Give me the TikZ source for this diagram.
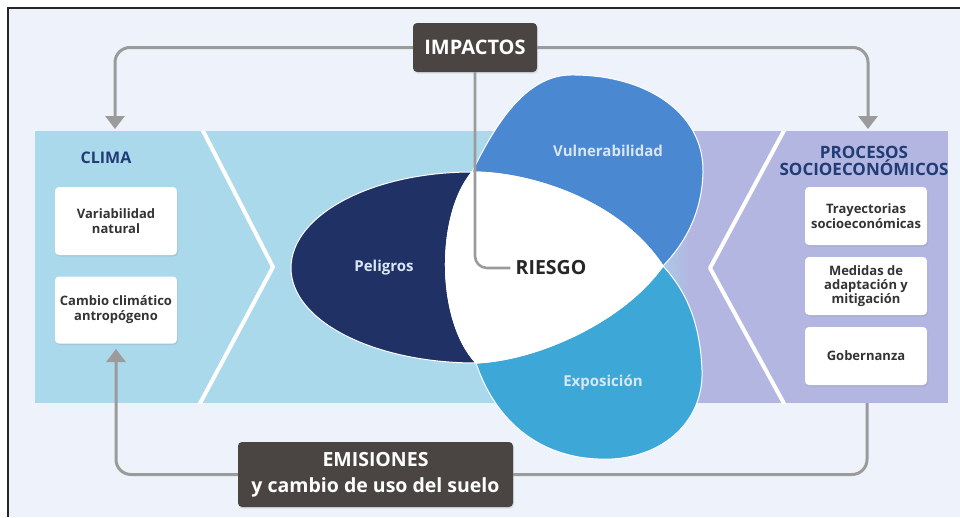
\documentclass[tikz,border=0pt]{standalone}
\usepackage{fontspec}
\setmainfont{Open Sans}
\usetikzlibrary{arrows.meta,calc,shadows}
\definecolor{bgc}{HTML}{EEF2FA}
\definecolor{bandblue}{HTML}{AAD9EB}
\definecolor{bandlav}{HTML}{B2B6E0}
\definecolor{navytext}{HTML}{213C75}
\definecolor{peligc}{HTML}{203265}
\definecolor{vulnc}{HTML}{4B88D2}
\definecolor{expoc}{HTML}{3DA8D8}
\definecolor{petaltext}{HTML}{D8E6F6}
\definecolor{darkbox}{HTML}{4A4543}
\definecolor{arrowgrey}{HTML}{9B9B9B}
\definecolor{boxtext}{HTML}{333333}
\begin{document}
\begin{tikzpicture}[x=1pt,y=-1pt,
  wbox/.style={fill=white, rounded corners=4pt, minimum width=122pt, align=center,
    font=\bfseries\fontsize{13}{15}\selectfont, text=boxtext, inner sep=0pt,
    drop shadow={opacity=0.18, shadow xshift=1pt, shadow yshift=-1.5pt}},
  dbox/.style={fill=darkbox, rounded corners=4pt, text=white, align=center, inner sep=0pt,
    drop shadow={opacity=0.2, shadow xshift=1pt, shadow yshift=-1.5pt}},
  conn/.style={draw=arrowgrey, line width=3pt, rounded corners=15pt},
  arrowend/.style={-{Triangle[width=19pt,length=13pt]}},
  chev/.style={draw=white, line width=4pt, line join=round},
  petal/.style={draw=white, line width=1pt},
  plabel/.style={text=petaltext, font=\bfseries\fontsize{15}{17}\selectfont},
  headtext/.style={text=navytext, align=center}
]
\useasboundingbox (0,0) rectangle (960,517);
\fill[white] (0,0) rectangle (960,517);
\fill[bgc] (9,8) rectangle (960,517);
\draw[line width=2pt, black!85] (8,517) -- (8,8) -- (960,8);

% band
\fill[bandblue] (35,131) rectangle (640,403);
\shade[left color=bandblue, right color=bandlav] (640,131) rectangle (690,403);
\fill[bandlav] (690,131) rectangle (948,403);
\begin{scope}
  \clip (35,131) rectangle (948,403);
  \draw[chev] (200,125) -- (273,267) -- (197,409);
  \draw[chev] (787,125) -- (710,268) -- (787,409);
\end{scope}

% coordinates
\coordinate (A) at (472,172);
\coordinate (B) at (476,363);
\coordinate (C) at (663,266);
\coordinate (cl) at (115,129);
\coordinate (pr) at (868,129);
\coordinate (ct) at (116,349);
\coordinate (pb) at (867,403);

% petals
\path[petal, fill=peligc] (A) .. controls (372,172) and (291,215) .. (291,268)
  .. controls (291,321) and (374,363) .. (B)
  .. controls (436,320) and (436,215) .. (A) -- cycle;
\path[petal, fill=vulnc] (A) .. controls (495,125) and (525,76) .. (570,75)
  .. controls (645,74) and (704,112) .. (703,172)
  .. controls (702,212) and (686,242) .. (C)
  .. controls (620,200) and (530,172) .. (A) -- cycle;
\path[petal, fill=expoc] (B) .. controls (495,420) and (540,462) .. (612,459)
  .. controls (665,456) and (704,420) .. (702,370)
  .. controls (700,320) and (685,290) .. (C)
  .. controls (625,320) and (540,360) .. (B) -- cycle;
\path[petal, fill=white] (A) .. controls (530,172) and (620,200) .. (C)
  .. controls (625,320) and (540,360) .. (B)
  .. controls (436,320) and (436,215) .. (A) -- cycle;

% nodes
\node[dbox, minimum width=124pt, minimum height=49pt,
  font=\bfseries\fontsize{20}{22}\selectfont] (imp) at (475,47.5) {IMPACTOS};
\node[dbox, minimum width=275pt, minimum height=65pt,
  font=\bfseries\fontsize{19.5}{26}\selectfont] (emi) at (375.5,474.5) {EMISIONES\\y cambio de uso del suelo};

\node[headtext, font=\bfseries\fontsize{16}{18}\selectfont] (clima) at (106,158) {CLIMA};
\node[headtext, font=\bfseries\fontsize{17}{15.5}\selectfont] (proc) at (864,161) {PROCESOS\\SOCIOECONÓMICOS};

\node[wbox, minimum height=68pt] (var) at (116,221) {Variabilidad\\natural};
\node[wbox, minimum height=67pt] (cam) at (116,310) {Cambio climático\\antropógeno};
\node[wbox, minimum height=58pt] (tra) at (866,216) {Trayectorias\\socioeconómicas};
\node[wbox, minimum height=58pt, font=\bfseries\fontsize{13}{14}\selectfont] (med) at (866,286) {Medidas de\\adaptación y\\mitigación};
\node[wbox, minimum height=58pt] (gob) at (866,356) {Gobernanza};

\node[plabel] (pel) at (384,268) {Peligros};
\node[plabel] (vul) at (608,151) {Vulnerabilidad};
\node[plabel] (exq) at (603,383) {Exposición};
\node[text=black!85, font=\bfseries\fontsize{19.5}{21}\selectfont, inner sep=5pt] (rie) at (551,268) {RIESGO};

% connectors
\draw[conn, arrowend] (imp.west) -| (cl);
\draw[conn, arrowend] (imp.east) -| (pr);
\draw[conn, line width=2.6pt, rounded corners=12pt] (imp.south) |- (rie.west);
\draw[conn, arrowend] (emi.west) -| (ct);
\draw[conn] (emi.east) -| (pb);
\end{tikzpicture}
\end{document}
